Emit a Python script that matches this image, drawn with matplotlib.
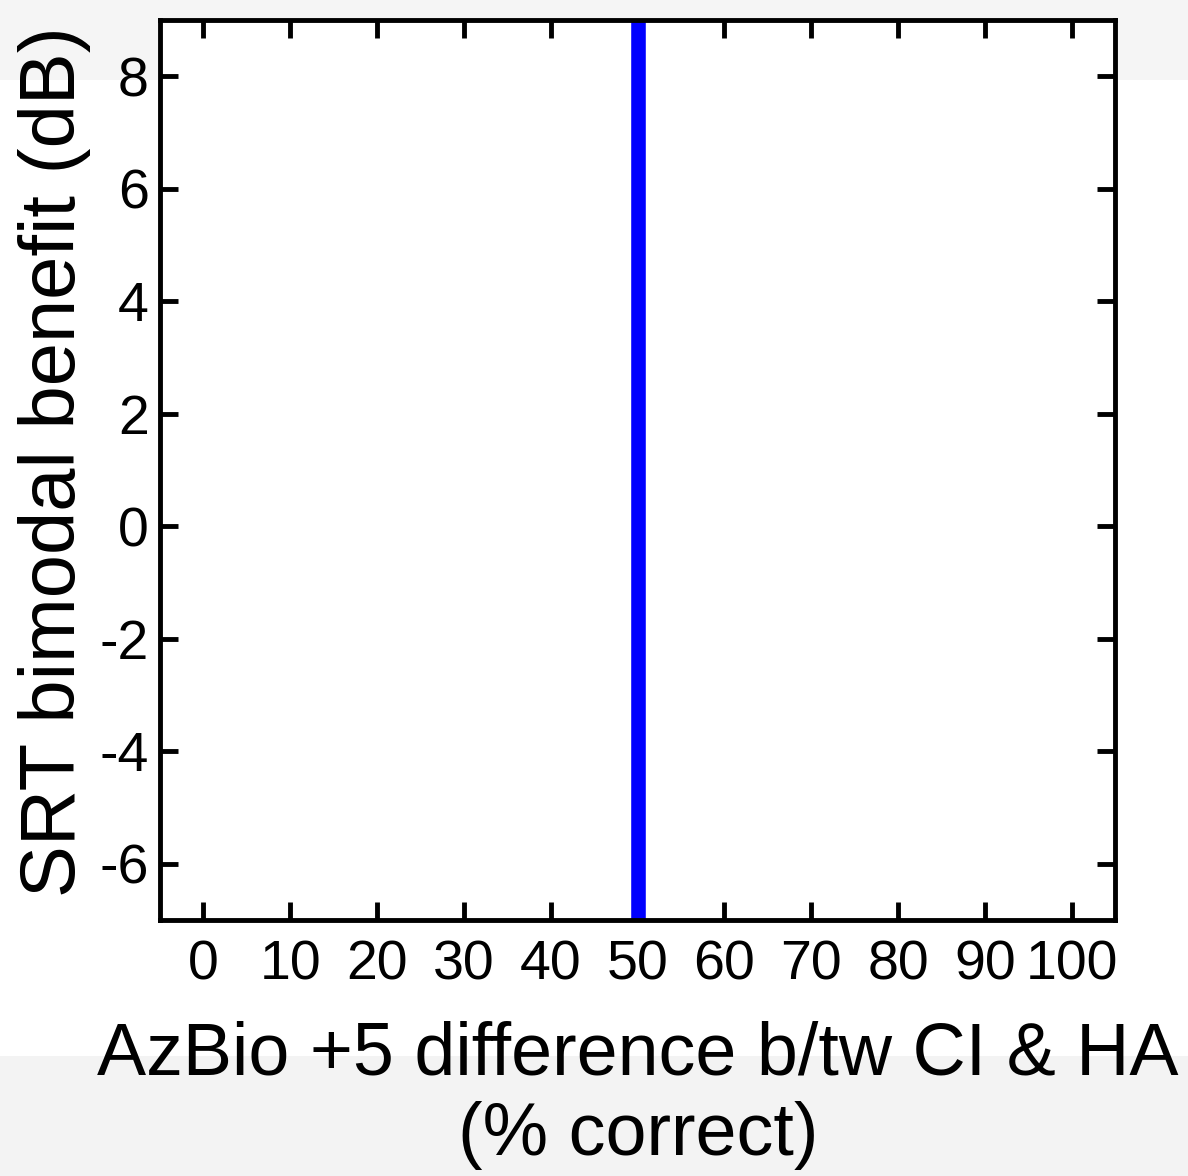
import matplotlib
matplotlib.use("Agg")
import matplotlib.pyplot as plt
from matplotlib.patches import Rectangle

plt.rcParams['font.family'] = ['Liberation Sans', 'DejaVu Sans']

# Data
line_x = [50]
x_ticks = [0, 10, 20, 30, 40, 50, 60, 70, 80, 90, 100]
y_ticks = [-6, -4, -2, 0, 2, 4, 6, 8]
x_limits = [-5, 105]
y_limits = [-7, 9]
x_label = "AzBio +5 difference b/tw CI & HA\n(% correct)"
y_label = "SRT bimodal benefit (dB)"

fig = plt.figure(figsize=(11.88, 11.76), dpi=100)
fig.patch.set_facecolor('white')
# light slide-style background bands
fig.patches.append(Rectangle((0, 1 - 80/1176), 1, 80/1176, transform=fig.transFigure,
                             facecolor='#f5f5f5', edgecolor='none', zorder=-10))
fig.patches.append(Rectangle((0, 0), 1, 120/1176, transform=fig.transFigure,
                             facecolor='#f3f3f3', edgecolor='none', zorder=-10))

ax = fig.add_axes([160/1188, 1 - 920/1176, (1115-160)/1188, 900/1176])
ax.set_facecolor('white')
for x in line_x:
    ax.axvline(x, color='#0000ff', linewidth=10.5, solid_capstyle='butt')

ax.set_xlim(*x_limits)
ax.set_ylim(*y_limits)
ax.set_xticks(x_ticks)
ax.set_yticks(y_ticks)
ax.set_xticklabels([str(t) for t in x_ticks])
ax.set_yticklabels([str(t) for t in y_ticks])
ax.tick_params(direction='in', length=13, width=3.5, top=True, right=True,
               labelsize=40, color='black')
ax.tick_params(axis='x', pad=14)
ax.tick_params(axis='y', pad=8)
for s in ax.spines.values():
    s.set_linewidth(3.5)
    s.set_color('black')

ax.set_xlabel(x_label, fontsize=53, linespacing=1.22)
ax.xaxis.set_label_coords((638 - 160) / (1115 - 160), (920 - 1170) / 900, transform=ax.transAxes)
ax.xaxis.label.set_va('bottom')
ax.set_ylabel(y_label, fontsize=56)
ax.yaxis.set_label_coords((55 - 160) / (1115 - 160), (920 - 462) / 900, transform=ax.transAxes)
ax.yaxis.label.set_va('center')

fig.savefig("out.png", dpi=100)
